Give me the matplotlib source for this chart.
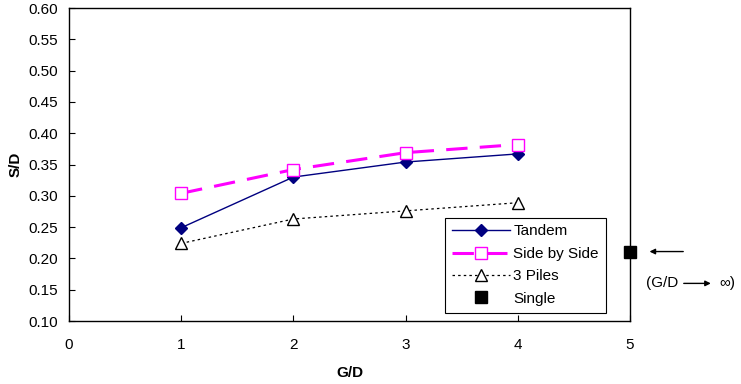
import numpy as np
import matplotlib.pyplot as plt
from matplotlib.patches import FancyArrowPatch

plt.rcParams['font.family'] = ['Liberation Sans', 'DejaVu Sans']

# datos
gd = [1, 2, 3, 4]
tandem = [0.249, 0.330, 0.354, 0.367]
side_by_side = [0.304, 0.342, 0.369, 0.382]
tres_pilas = [0.224, 0.263, 0.276, 0.289]
single_x = [5]
single_y = [0.210]

fig = plt.figure(figsize=(7.41, 3.84), dpi=100)
ax = fig.add_axes([0.0931, 0.164, 0.757, 0.815])

ax.plot(gd, tandem, color='#000080', lw=1.0, marker='D', ms=6.5,
        markerfacecolor='#000080', markeredgecolor='#000080', label='Tandem')
ax.plot(gd, side_by_side, color='#FF00FF', lw=2.2, dashes=(7, 4), marker='s', ms=8,
        markerfacecolor='white', markeredgecolor='#FF00FF', markeredgewidth=1.0,
        label='Side by Side')
ax.plot(gd, tres_pilas, color='black', lw=0.9, dashes=(2, 2.5), marker='^', ms=8.5,
        markerfacecolor='white', markeredgecolor='black', markeredgewidth=1.0,
        label='3 Piles')
ax.plot(single_x, single_y, ls='none', marker='s', ms=9, color='black',
        clip_on=False, zorder=5, label='Single')

ax.set_xlim(0, 5)
ax.set_ylim(0.10, 0.60)
ax.set_xticks(np.arange(0, 6, 1))
ax.set_yticks(np.arange(0.10, 0.601, 0.05))
ax.set_yticklabels([f'{v:.2f}' for v in np.arange(0.10, 0.601, 0.05)])
ax.tick_params(direction='in', length=4, labelsize=11, width=0.8)
ax.tick_params(axis='y', pad=8)
ax.tick_params(axis='x', pad=12)

ax.set_xlabel('G/D', fontsize=11, fontweight='bold', labelpad=10)
ax.set_ylabel('S/D', fontsize=11, fontweight='bold', labelpad=4)

for s in ax.spines.values():
    s.set_linewidth(1.0)

leg = ax.legend(loc='lower right', bbox_to_anchor=(0.957, 0.027), fontsize=11,
                frameon=True, fancybox=False, edgecolor='black', framealpha=1,
                handlelength=3.8, borderpad=0.45, labelspacing=0.55, handletextpad=0.2,
                borderaxespad=0)
leg.get_frame().set_linewidth(0.8)

# flecha y texto (G/D -> infinito)
ax.annotate('', xy=(5.15, 0.211), xytext=(5.5, 0.211), xycoords='data',
            arrowprops=dict(arrowstyle='-|>', color='black', lw=1.0, mutation_scale=8),
            annotation_clip=False)
fig.text(0.872, 0.262, '(G/D', fontsize=11, va='center')
fig.text(0.993, 0.262, '\u221e)', fontsize=11, va='center', ha='right')
fig.add_artist(FancyArrowPatch(
    (0.919, 0.262), (0.963, 0.262), transform=fig.transFigure,
    arrowstyle='-|>', mutation_scale=8, color='black', lw=1.0))

plt.savefig('out.png', dpi=100)
